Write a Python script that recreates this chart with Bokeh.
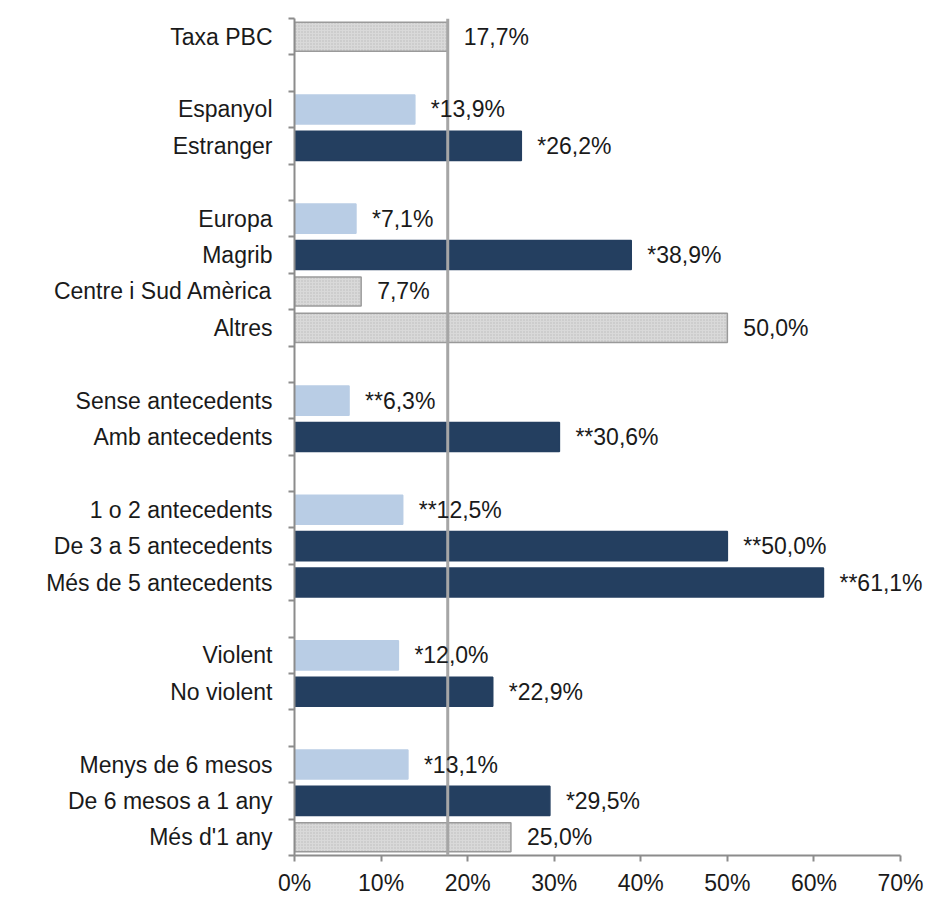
from bokeh.plotting import figure
from bokeh.models import Range1d, FixedTicker, ColumnDataSource, Span, LabelSet
from bokeh.core.properties import value
from bokeh.embed import file_html
from bokeh.resources import INLINE

# ---- data ----
group_a = ["Taxa PBC"]
group_b = ["Espanyol", "Estranger"]
group_c = ["Europa", "Magrib", "Centre i Sud Amèrica", "Altres"]
group_d = ["Sense antecedents", "Amb antecedents"]
group_e = ["1 o 2 antecedents", "De 3 a 5 antecedents", "Més de 5 antecedents"]
group_f = ["Violent", "No violent"]
group_g = ["Menys de 6 mesos", "De 6 mesos a 1 any", "Més d'1 any"]
groups = [group_a, group_b, group_c, group_d, group_e, group_f, group_g]

values = [17.7, 13.9, 26.2, 7.1, 38.9, 7.7, 50.0, 6.3, 30.6, 12.5, 50.0, 61.1,
          12.0, 22.9, 13.1, 29.5, 25.0]
significance = ["", "*", "*", "*", "*", "", "", "**", "**", "**", "**", "**",
                "*", "*", "*", "*", ""]
kinds = ["ref", "low", "high", "low", "high", "ref", "ref", "low", "high", "low",
         "high", "high", "low", "high", "low", "high", "ref"]
reference_value = 17.7
x_ticks = [0, 10, 20, 30, 40, 50, 60, 70]

# ---- layout of slots ----
categories, ycent = [], []
slot = 0
for gi, g in enumerate(groups):
    if gi > 0:
        slot += 1
    for c in g:
        categories.append(c)
        ycent.append(slot + 0.5)
        slot += 1
n_slots = slot

color_map = {"low": "#b9cde5", "high": "#243f60", "ref": "#d9d9d9"}
line_map = {"low": "#b9cde5", "high": "#243f60", "ref": "#9a9a9a"}
hatch_map = {"low": " ", "high": " ", "ref": "dot"}

labels = [s + ("%.1f" % v).replace(".", ",") + "%" for s, v in zip(significance, values)]

src = ColumnDataSource(dict(
    y=ycent, v=values, cat=categories, lab=labels,
    fill=[color_map[k] for k in kinds],
    line=[line_map[k] for k in kinds],
    hatch=[hatch_map[k] for k in kinds],
))

frame_left = 294
frame_w = 633
px_per_unit = 606 / 70.0

p = figure(width=927, height=898, output_backend="svg", toolbar_location=None,
           x_range=Range1d(0, frame_w / px_per_unit), y_range=Range1d(n_slots, 0))
p.min_border_left = frame_left
p.min_border_right = 0
p.min_border_top = 18
p.min_border_bottom = 40
p.outline_line_color = None
p.xgrid.grid_line_color = None
p.ygrid.grid_line_color = None
p.background_fill_color = "white"
p.border_fill_color = "white"

p.hbar(y="y", right="v", left=0, height=0.8, source=src,
       fill_color="fill", line_color="line", line_width=1.5,
       hatch_pattern="hatch", hatch_color="#b5b5b5", hatch_scale=3.0,
       hatch_alpha=0.8, hatch_weight=1.0)

p.add_layout(Span(location=reference_value, dimension="height",
                  line_color="#a6a6a6", line_width=3))

p.add_layout(LabelSet(x="v", y="y", text="lab", source=src, x_offset=16,
                      text_baseline="middle", text_align="left",
                      text_font=value("Liberation Sans"), text_font_size="23px",
                      text_color="#1a1a1a"))

# x axis
xa = p.xaxis[0]
xa.ticker = FixedTicker(ticks=x_ticks, minor_ticks=[])
xa.bounds = (0, 70)
xa.major_label_overrides = {t: f"{t}%" for t in x_ticks}
xa.axis_line_color = "#8c8c8c"
xa.axis_line_width = 2
xa.major_tick_line_color = "#8c8c8c"
xa.major_tick_line_width = 2
xa.major_tick_in = 0
xa.major_tick_out = 6
xa.minor_tick_line_color = None
xa.major_label_text_font = "Liberation Sans"
xa.major_label_text_font_size = "23px"
xa.major_label_text_color = "#1a1a1a"
xa.major_label_standoff = 8

# y axis
ya = p.yaxis[0]
ya.ticker = FixedTicker(ticks=ycent, minor_ticks=list(range(n_slots + 1)))
ya.major_label_overrides = {y: c for y, c in zip(ycent, categories)}
ya.axis_line_color = "#8c8c8c"
ya.axis_line_width = 2
ya.major_tick_line_color = None
ya.major_tick_in = 0
ya.major_tick_out = 0
ya.minor_tick_line_color = "#8c8c8c"
ya.minor_tick_line_width = 2
ya.minor_tick_in = 0
ya.minor_tick_out = 6
ya.major_label_text_font = "Liberation Sans"
ya.major_label_text_font_size = "23px"
ya.major_label_text_color = "#1a1a1a"
ya.major_label_standoff = 16

open("out.html", "w").write(file_html(p, INLINE))
